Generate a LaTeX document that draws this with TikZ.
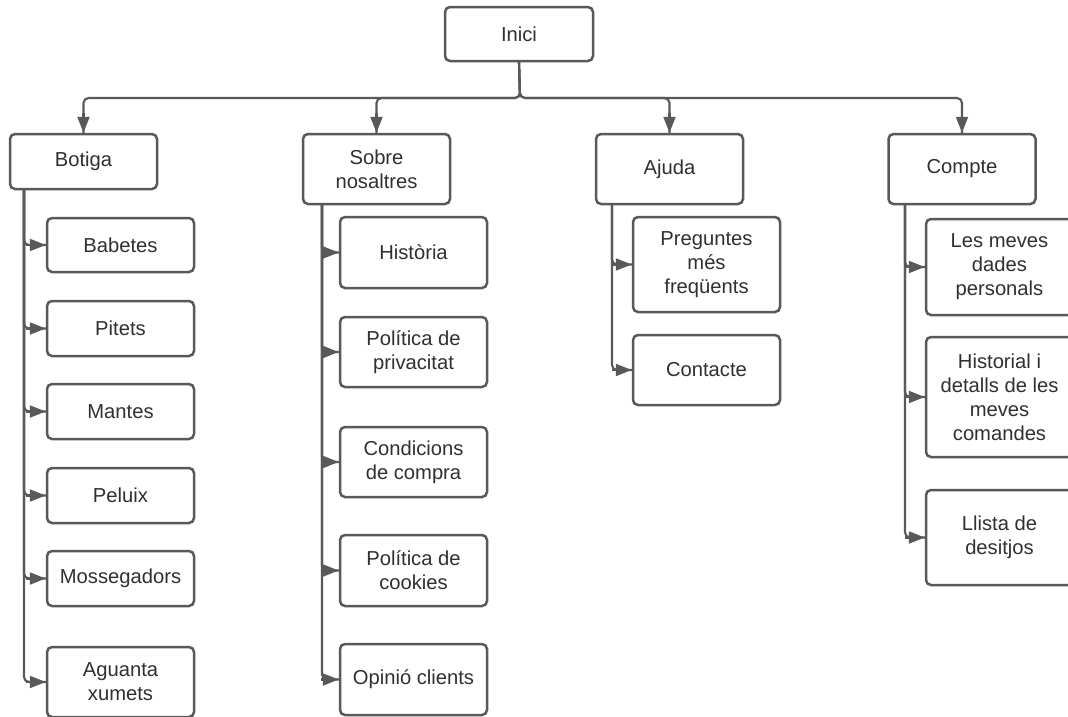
\documentclass[tikz,border=0pt]{standalone}
\usepackage{fontspec}
\setmainfont{Liberation Sans}
\usetikzlibrary{arrows.meta}
\definecolor{lc}{HTML}{595959}
\definecolor{tc}{HTML}{303030}
\begin{document}
\begin{tikzpicture}[x=1pt,y=-1pt,
  box/.style={draw=lc, line width=2.5pt, rounded corners=5pt, fill=white, text=tc,
    align=center, inner sep=2pt, minimum width=147pt, font=\fontsize{20.2}{24}\selectfont},
  conn/.style={draw=lc, line width=2.1pt, rounded corners=5pt},
  tip/.style={draw=lc, line width=2.1pt, -{Triangle[length=16pt,width=12pt,sharp]}}]
\useasboundingbox (0,0) rectangle (1068,716);
\fill[white] (0,0) rectangle (1068,716);
\clip (0,0) rectangle (1068,716);

% top
\node[box, minimum width=148pt, minimum height=54pt] (inici) at (519,34) {Inici};
\node[box, minimum height=55pt] (botiga) at (83.5,161.5) {Botiga};
\node[box, minimum height=70pt] (sobre) at (376.5,169) {Sobre\\nosaltres};
\node[box, minimum height=70pt] (ajuda) at (669.5,169) {Ajuda};
\node[box, minimum height=70pt] (compte) at (962,169) {Compte};

% Botiga children
\node[box, minimum height=54pt] (babetes) at (120.5,245) {Babetes};
\node[box, minimum height=55pt] (pitets) at (120.5,328.5) {Pitets};
\node[box, minimum height=55pt] (mantes) at (120.5,411.5) {Mantes};
\node[box, minimum height=55pt] (peluix) at (120.5,495.5) {Peluix};
\node[box, minimum height=55pt] (mossegadors) at (120.5,578.5) {Mossegadors};
\node[box, minimum height=70pt] (aguanta) at (120.5,682) {Aguanta\\xumets};

% Sobre nosaltres children
\node[box, minimum height=71pt] (historia) at (413.5,252.5) {Història};
\node[box, minimum height=70pt] (privacitat) at (413.5,352) {Política de\\privacitat};
\node[box, minimum height=70pt] (condicions) at (413.5,462) {Condicions\\de compra};
\node[box, minimum height=71pt] (cookies) at (413.5,570.5) {Política de\\cookies};
\node[box, minimum height=71pt] (opinio) at (413.5,679.5) {Opinió clients};

% Ajuda children
\node[box, minimum height=95pt] (preguntes) at (706.5,264.5) {Preguntes\\més\\freqüents};
\node[box, minimum height=70pt] (contacte) at (706.5,370) {Contacte};

% Compte children
\node[box, minimum height=96pt] (dades) at (999.5,267) {Les meves\\dades\\personals};
\node[box, minimum height=120pt] (historial) at (999.5,397) {Historial i\\detalls de les\\meves\\comandes};
\node[box, minimum height=95pt] (llista) at (999.5,537.5) {Llista de\\desitjos};

% top connectors
\coordinate (bus) at (520,98);
\draw[conn] (inici.south) -- (bus) -| (botiga.north);
\draw[conn] (inici.south) -- (bus) -| (sobre.north);
\draw[conn] (inici.south) -- (bus) -| (ajuda.north);
\draw[conn] (inici.south) -- (bus) -| (compte.north);
\foreach \c in {botiga,sobre,ajuda,compte}
  \draw[tip] ([yshift=20pt]\c.north) -- (\c.north);

% Botiga trunk
\coordinate (bt) at (24,189);
\foreach \c in {babetes,pitets,mantes,peluix,mossegadors,aguanta}
  {\draw[conn] (bt) |- (\c.west);
   \draw[tip] ([xshift=-20pt]\c.west) -- (\c.west);}

% Sobre trunk
\coordinate (st) at (322,204);
\foreach \c in {historia,privacitat,condicions,cookies,opinio}
  {\draw[conn] (st) |- (\c.west);
   \draw[tip] ([xshift=-18pt]\c.west) -- (\c.west);}

% Ajuda trunk
\coordinate (at) at (612,204);
\foreach \c in {preguntes,contacte}
  {\draw[conn] (at) |- (\c.west);
   \draw[tip] ([xshift=-20pt]\c.west) -- (\c.west);}

% Compte trunk
\coordinate (ct) at (905,204);
\foreach \c in {dades,historial,llista}
  {\draw[conn] (ct) |- (\c.west);
   \draw[tip] ([xshift=-20pt]\c.west) -- (\c.west);}
\end{tikzpicture}
\end{document}
